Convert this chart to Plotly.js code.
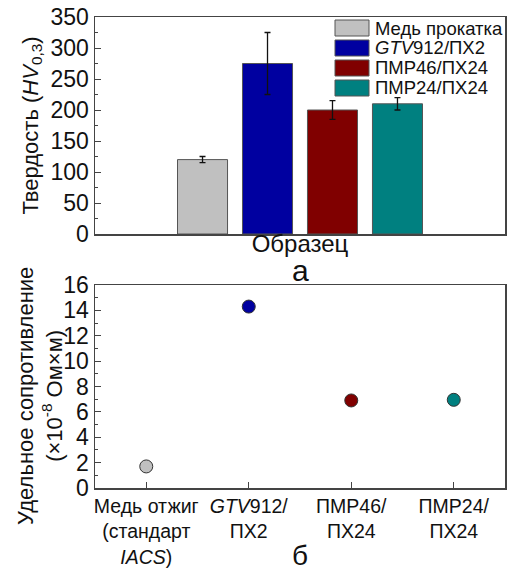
<!DOCTYPE html>
<html>
<head>
<meta charset="utf-8">
<script src="https://cdn.plot.ly/plotly-3.0.1.min.js"></script>
<style>html,body{margin:0;padding:0;background:#fff;}#chart{width:515px;height:571px;}</style>
</head>
<body>
<div id="chart"></div>
<script>
// ---- data (a): hardness ----
const hardCategory = ['Образец'];
const hardNames = ['Медь прокатка', '<i>GTV</i>912/ПХ2', 'ПМР46/ПХ24', 'ПМР24/ПХ24'];
const hardValues = [120, 275, 200, 210];
const hardErrors = [5, 50, 15, 10];
const hardColors = ['#c0c0c0', '#0000a0', '#800000', '#008080'];

// ---- data (б): resistivity ----
const resCategories = ['Медь отжиг<br>(стандарт<br><i>IACS</i>)', '<i>GTV</i>912/<br>ПХ2', 'ПМР46/<br>ПХ24', 'ПМР24/<br>ПХ24'];
const resValues = [1.7, 14.3, 6.9, 6.95];
const resColors = ['#c0c0c0', '#0000a0', '#800000', '#008080'];

const FONT = 'Liberation Sans, Arial, sans-serif';

// page geometry helpers (pixels -> paper)
const W = 515, H = 571, ML = 95, MR = 10, MT = 17, MB = 83;
const PW = W - ML - MR, PH = H - MT - MB;
const px = v => (v - ML) / PW;
const py = v => (H - MB - v) / PH;

const traces = [];
for (let i = 0; i < hardNames.length; i++) {
  traces.push({
    type: 'bar', x: hardCategory, y: [hardValues[i]], name: hardNames[i],
    xaxis: 'x', yaxis: 'y', showlegend: false,
    marker: {color: hardColors[i], line: {color: '#555', width: 1}},
    error_y: {type: 'data', array: [hardErrors[i]], visible: true, color: '#111', thickness: 1.3, width: 3}
  });
}
traces.push({
  type: 'scatter', mode: 'markers', x: resCategories, y: resValues,
  xaxis: 'x2', yaxis: 'y2', showlegend: false,
  marker: {size: 13, color: resColors, line: {color: '#333', width: 1}}
});

// legend drawn as shapes + labels (swatches larger than plotly's built-in)
const shapes = [], annotations = [];
const legRowY = [28, 48, 68, 88];
hardNames.forEach((n, i) => {
  shapes.push({type: 'rect', xref: 'paper', yref: 'paper',
    x0: px(335), x1: px(369), y0: py(legRowY[i] + 8), y1: py(legRowY[i] - 8),
    fillcolor: hardColors[i], line: {color: '#555', width: 1}});
  annotations.push({text: n, xref: 'paper', yref: 'paper', x: px(373), y: py(legRowY[i]),
    xanchor: 'left', yanchor: 'middle', showarrow: false,
    font: {family: FONT, size: 18.5, color: '#111'}});
});
annotations.push(
  {text: 'а', xref: 'paper', yref: 'paper', x: 0.5, y: py(270), xanchor: 'center', yanchor: 'middle',
   showarrow: false, font: {family: FONT, size: 30, color: '#111'}},
  {text: 'б', xref: 'paper', yref: 'paper', x: 0.5, y: py(555), xanchor: 'center', yanchor: 'middle',
   showarrow: false, font: {family: FONT, size: 28, color: '#111'}},
  {text: 'Удельное сопротивление<br>(×10<sup>-8</sup> Ом×м)', xref: 'paper', yref: 'paper',
   x: px(40), y: py(396), xanchor: 'center', yanchor: 'middle', textangle: -90,
   showarrow: false, font: {family: FONT, size: 22, color: '#111'}}
);

const axisCommon = {
  showline: true, mirror: true, linecolor: '#444', linewidth: 1.5,
  showgrid: false, zeroline: false, ticks: 'inside', tickcolor: '#444',
  tickfont: {family: FONT, size: 23, color: '#111'}
};

const layout = {
  width: W, height: H,
  margin: {l: ML, r: MR, t: MT, b: MB},
  paper_bgcolor: '#fff', plot_bgcolor: '#fff',
  font: {family: FONT, color: '#111'},
  barmode: 'group', bargap: 0.366, bargroupgap: 0.23,
  showlegend: false,
  xaxis: Object.assign({}, axisCommon, {
    domain: [0, 1], anchor: 'y', type: 'category', showticklabels: false, ticks: '',
    title: {text: 'Образец', font: {family: FONT, size: 24}, standoff: 0}
  }),
  yaxis: Object.assign({}, axisCommon, {
    domain: [py(234), 1], anchor: 'x', range: [0, 350], dtick: 50, ticklen: 6,
    minor: {ticks: 'inside', ticklen: 3, dtick: 25, tickcolor: '#444'},
    title: {text: 'Твердость (<i>HV</i><sub>0,3</sub>)', font: {family: FONT, size: 22}, standoff: 6}
  }),
  xaxis2: Object.assign({}, axisCommon, {
    domain: [0, 1], anchor: 'y2', type: 'category', range: [-0.5, 3.5], ticklen: 6,
    tickfont: {family: FONT, size: 19.5, color: '#111'}
  }),
  yaxis2: Object.assign({}, axisCommon, {
    domain: [0, py(285)], anchor: 'x2', range: [0, 16], dtick: 2, ticklen: 6,
    minor: {ticks: 'inside', ticklen: 3, dtick: 1, tickcolor: '#444'}
  }),
  shapes: shapes,
  annotations: annotations
};

Plotly.newPlot('chart', traces, layout, {displayModeBar: false, staticPlot: true});
</script>
</body>
</html>
